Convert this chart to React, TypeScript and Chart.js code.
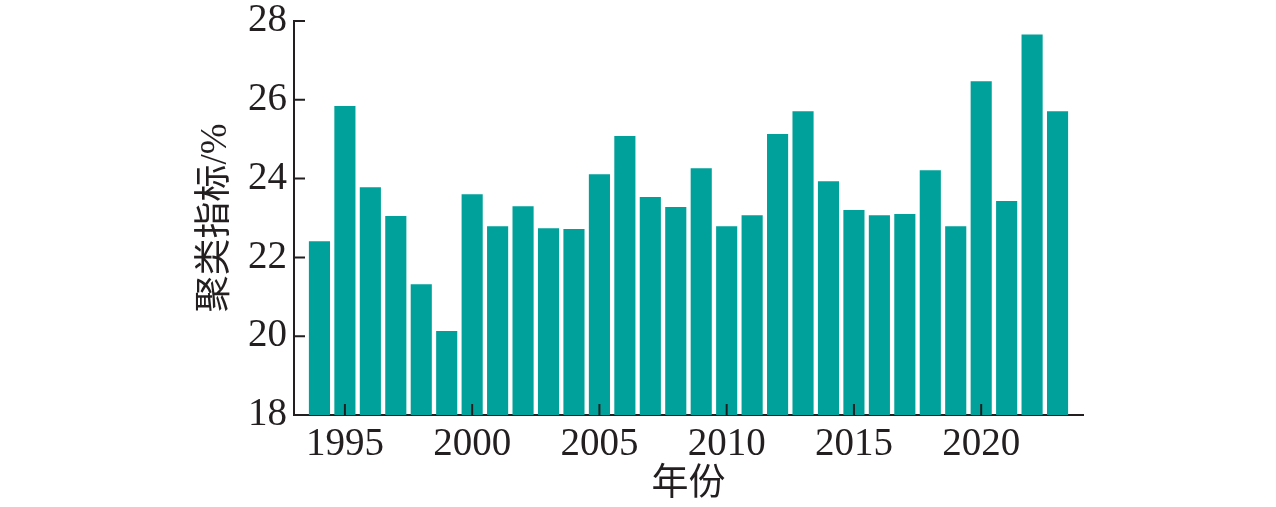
import React, { useEffect, useRef } from "react";
import { Chart, registerables } from "chart.js";

Chart.register(...registerables);

const years = [
  1994, 1995, 1996, 1997, 1998, 1999, 2000, 2001, 2002, 2003, 2004, 2005, 2006, 2007, 2008,
  2009, 2010, 2011, 2012, 2013, 2014, 2015, 2016, 2017, 2018, 2019, 2020, 2021, 2022, 2023,
];
const clusterIndex = [
  22.41, 25.84, 23.78, 23.05, 21.32, 20.13, 23.6, 22.79, 23.3, 22.74, 22.72, 24.11, 25.08, 23.53,
  23.28, 24.26, 22.79, 23.07, 25.13, 25.71, 23.93, 23.2, 23.07, 23.1, 24.21, 22.79, 26.47, 23.43,
  27.66, 25.71,
];
const xTickValues = [1995, 2000, 2005, 2010, 2015, 2020];
const yTickValues = [18, 20, 22, 24, 26, 28];
const xTitle = "年份";
const yTitle = "聚类指标/%";

const TEXT = "#231f20";
const BAR = "#00a19a";
const FONT = '"Liberation Serif", "Times New Roman", "Noto Sans CJK SC", serif';

const innerTicks = {
  id: "innerTicks",
  afterDatasetsDraw(chart: any) {
    const ctx = chart.ctx;
    const xs = chart.scales.x;
    const ys = chart.scales.y;
    ctx.save();
    ctx.strokeStyle = TEXT;
    ctx.lineWidth = 2;
    ctx.beginPath();
    xs.ticks.forEach((t: any) => {
      const px = xs.getPixelForValue(t.value);
      ctx.moveTo(px, ys.bottom);
      ctx.lineTo(px, ys.bottom - 11);
    });
    ys.ticks.forEach((t: any) => {
      const py = ys.getPixelForValue(t.value);
      ctx.moveTo(xs.left, py);
      ctx.lineTo(xs.left + 11, py);
    });
    ctx.stroke();
    ctx.restore();
  },
};

export default function App() {
  const ref = useRef<HTMLCanvasElement>(null);
  useEffect(() => {
    document.body.style.margin = "0";
    const chart = new Chart(ref.current!, {
      type: "bar",
      data: {
        datasets: [
          {
            data: years.map((y, i) => ({ x: y, y: clusterIndex[i] })),
            backgroundColor: BAR,
            borderWidth: 0,
            categoryPercentage: 1,
            barPercentage: 0.83,
          },
        ],
      },
      options: {
        animation: false,
        responsive: false,
        layout: { padding: { left: 190, right: 193, top: 21, bottom: 0 } },
        plugins: { legend: { display: false }, tooltip: { enabled: false } },
        scales: {
          x: {
            type: "linear",
            offset: false,
            min: 1993,
            max: 2024,
            afterBuildTicks: (s: any) => {
              s.ticks = xTickValues.map((v) => ({ value: v }));
            },
            afterFit: (s: any) => {
              s.height = 92;
              s.paddingLeft = 0;
              s.paddingRight = 0;
            },
            grid: { display: false, drawTicks: false, offset: false },
            border: { display: true, color: TEXT, width: 2 },
            ticks: {
              color: TEXT,
              padding: 6,
              maxRotation: 0,
              autoSkip: false,
              font: { family: FONT, size: 39 },
              callback: (v: any) => String(v),
            },
            title: {
              display: true,
              text: xTitle,
              color: TEXT,
              font: { family: FONT, size: 37, lineHeight: 1.2 },
              padding: { top: 0, bottom: 0 },
            },
          },
          y: {
            min: 18,
            max: 28,
            afterBuildTicks: (s: any) => {
              s.ticks = yTickValues.map((v) => ({ value: v }));
            },
            afterFit: (s: any) => {
              s.width = 104;
              s.paddingTop = 0;
              s.paddingBottom = 0;
            },
            grid: { display: false, drawTicks: false },
            border: { display: true, color: TEXT, width: 2 },
            ticks: {
              color: TEXT,
              padding: 7,
              font: { family: FONT, size: 39 },
            },
            title: {
              display: true,
              text: yTitle,
              color: TEXT,
              font: { family: FONT, size: 37, lineHeight: 1.2 },
              padding: { top: 4, bottom: 0 },
            },
          },
        },
      },
      plugins: [innerTicks],
    });
    return () => chart.destroy();
  }, []);
  return (
    <div style={{ width: 1276, height: 507 }}>
      <canvas ref={ref} width={1276} height={507} style={{ display: "block" }} />
    </div>
  );
}
